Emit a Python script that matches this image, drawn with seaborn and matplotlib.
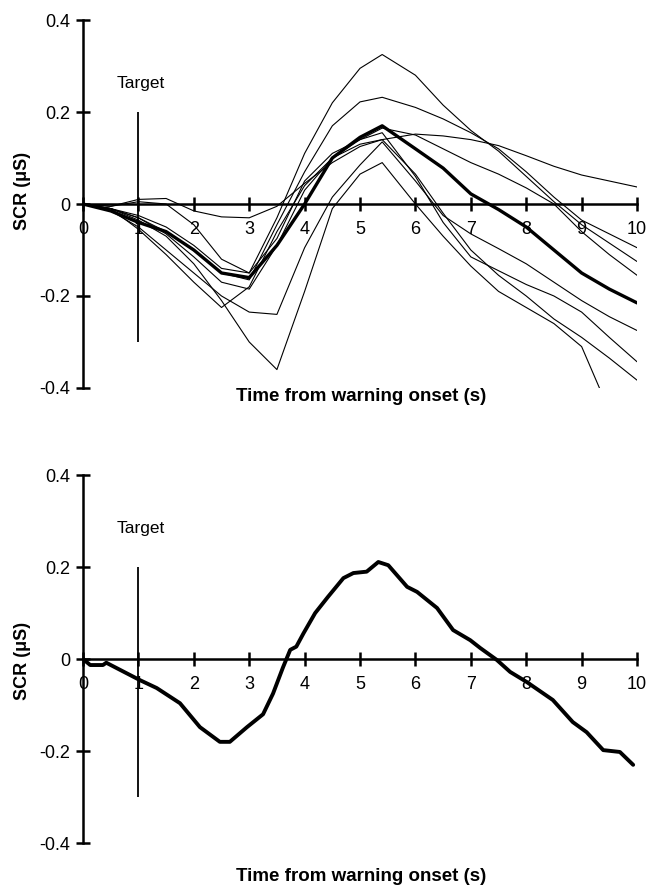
import numpy as np
import pandas as pd
import matplotlib
matplotlib.use("Agg")
import matplotlib.pyplot as plt
import seaborn as sns

sns.set_style("ticks")
plt.rcParams["font.family"] = ["Liberation Sans", "DejaVu Sans"]
plt.rcParams["text.color"] = "black"

# time knots (s) for the top panel traces
knots = [0, 0.5, 1, 1.5, 2, 2.5, 3, 3.5, 4, 4.5, 5, 5.4, 6, 6.5, 7, 7.5, 8, 8.5, 9, 9.5, 10]

# individual responses (uS)
subj_a = [0, -0.01, -0.025, -0.05, -0.09, -0.14, -0.15, -0.03, 0.11, 0.22, 0.295, 0.325, 0.28, 0.215, 0.16, 0.115, 0.06, 0.005, -0.045, -0.085, -0.125]
subj_b = [0, -0.01, -0.03, -0.06, -0.1, -0.15, -0.165, -0.045, 0.07, 0.17, 0.222, 0.232, 0.21, 0.185, 0.155, 0.12, 0.07, 0.015, -0.035, -0.065, -0.095]
subj_c = [0, -0.005, 0.005, 0.0, -0.045, -0.12, -0.15, -0.075, 0.05, 0.11, 0.14, 0.165, 0.15, 0.12, 0.09, 0.065, 0.035, 0.0, -0.06, -0.11, -0.155]
subj_d = [0, -0.015, -0.05, -0.1, -0.15, -0.2, -0.235, -0.24, -0.095, 0.015, 0.085, 0.135, 0.05, -0.025, -0.065, -0.097, -0.13, -0.17, -0.21, -0.245, -0.275]
subj_e = [0, -0.01, -0.03, -0.065, -0.115, -0.17, -0.185, -0.09, 0.03, 0.1, 0.14, 0.155, 0.06, -0.04, -0.115, -0.145, -0.175, -0.2, -0.235, -0.29, -0.343]
subj_f = [0, -0.01, -0.035, -0.07, -0.13, -0.21, -0.3, -0.36, -0.19, -0.01, 0.065, 0.09, 0.0, -0.07, -0.135, -0.19, -0.225, -0.26, -0.31, -0.45, np.nan]
subj_g = [0, -0.01, -0.055, -0.11, -0.17, -0.225, -0.18, -0.06, 0.04, 0.1, 0.13, 0.14, 0.065, -0.02, -0.1, -0.155, -0.2, -0.25, -0.29, -0.335, -0.383]
subj_h = [0, -0.005, 0.01, 0.012, -0.015, -0.028, -0.03, -0.005, 0.045, 0.09, 0.125, 0.14, 0.152, 0.148, 0.14, 0.127, 0.105, 0.082, 0.063, 0.05, 0.037]

# group mean, upper panel
mean_top = [0, -0.015, -0.04, -0.06, -0.1, -0.15, -0.16, -0.09, 0.0, 0.1, 0.145, 0.17, 0.12, 0.078, 0.022, -0.012, -0.05, -0.1, -0.15, -0.185, -0.215]

# lower panel mean
bottom_x = [0, 0.13, 0.36, 0.42, 1.03, 1.33, 1.75, 2.11, 2.47, 2.65, 2.96, 3.25, 3.43, 3.61, 3.74, 3.85, 3.98,
            4.19, 4.42, 4.7, 4.88, 5.12, 5.33, 5.51, 5.85, 6.03, 6.39, 6.68, 6.99, 7.17, 7.47, 7.71, 8.01,
            8.48, 8.84, 9.09, 9.39, 9.69, 9.93]
bottom_y = [0, -0.013, -0.013, -0.008, -0.046, -0.063, -0.096, -0.148, -0.18, -0.18, -0.148, -0.12, -0.075,
            -0.018, 0.02, 0.027, 0.056, 0.1, 0.135, 0.176, 0.187, 0.19, 0.211, 0.204, 0.157, 0.146, 0.111,
            0.063, 0.041, 0.024, -0.002, -0.028, -0.05, -0.089, -0.137, -0.159, -0.198, -0.202, -0.23]

x_ticks = list(range(0, 11))
y_ticks = [0.4, 0.2, 0, -0.2, -0.4]
y_tick_labels = ["0.4", "0.2", "0", "-0.2", "-0.4"]

subjects = {"a": subj_a, "b": subj_b, "c": subj_c, "d": subj_d,
            "e": subj_e, "f": subj_f, "g": subj_g, "h": subj_h}
df = pd.DataFrame({
    "time": knots * len(subjects),
    "scr": [v for vals in subjects.values() for v in vals],
    "subject": [k for k in subjects for _ in knots],
})


def style_axes(ax, target_y, ylab_y, xlab_y):
    ax.set_xlim(0, 10)
    ax.set_ylim(-0.4, 0.4)
    ax.spines["top"].set_visible(False)
    ax.spines["right"].set_visible(False)
    ax.spines["bottom"].set_position(("data", 0))
    ax.spines["left"].set_position(("data", 0))
    for s in ["bottom", "left"]:
        ax.spines[s].set_linewidth(1.8)
        ax.spines[s].set_color("black")
    ax.set_xticks(x_ticks)
    ax.set_xticklabels([str(t) for t in x_ticks])
    ax.set_yticks(y_ticks)
    ax.set_yticklabels(y_tick_labels)
    ax.tick_params(bottom=True, left=True, direction="inout", length=10, width=1.8,
                   colors="black", labelcolor="black", labelsize=13)
    ax.tick_params(axis="x", pad=7)
    ax.tick_params(axis="y", pad=4)
    ax.set_xlabel("")
    ax.set_ylabel("")
    # target onset marker
    ax.vlines(1, -0.3, 0.2, color="black", lw=1.3)
    ax.text(0.6, target_y, "Target", fontsize=12.5, ha="left", va="baseline", color="black")
    ax.text(-0.110, ylab_y, "SCR (μS)", rotation=90, transform=ax.transAxes,
            ha="center", va="center", fontsize=13, fontweight="bold", color="black")
    ax.text(0.502, xlab_y, "Time from warning onset (s)", transform=ax.transAxes,
            ha="center", va="center", fontsize=13.5, fontweight="bold", color="black")


fig = plt.figure(figsize=(6.47, 8.86), dpi=100)
ax1 = fig.add_axes([0.1283, 0.5621, 0.8563, 0.4153])
ax2 = fig.add_axes([0.1283, 0.0485, 0.8563, 0.4153])

sns.lineplot(data=df, x="time", y="scr", units="subject", estimator=None,
             color="black", lw=0.8, ax=ax1)
sns.lineplot(x=knots, y=mean_top, color="black", lw=2.4, ax=ax1)
style_axes(ax1, 0.252, 0.535, -0.024)

sns.lineplot(x=bottom_x, y=bottom_y, color="black", lw=2.8, ax=ax2)
style_axes(ax2, 0.274, 0.495, -0.09)

fig.savefig("out.png", dpi=100)
